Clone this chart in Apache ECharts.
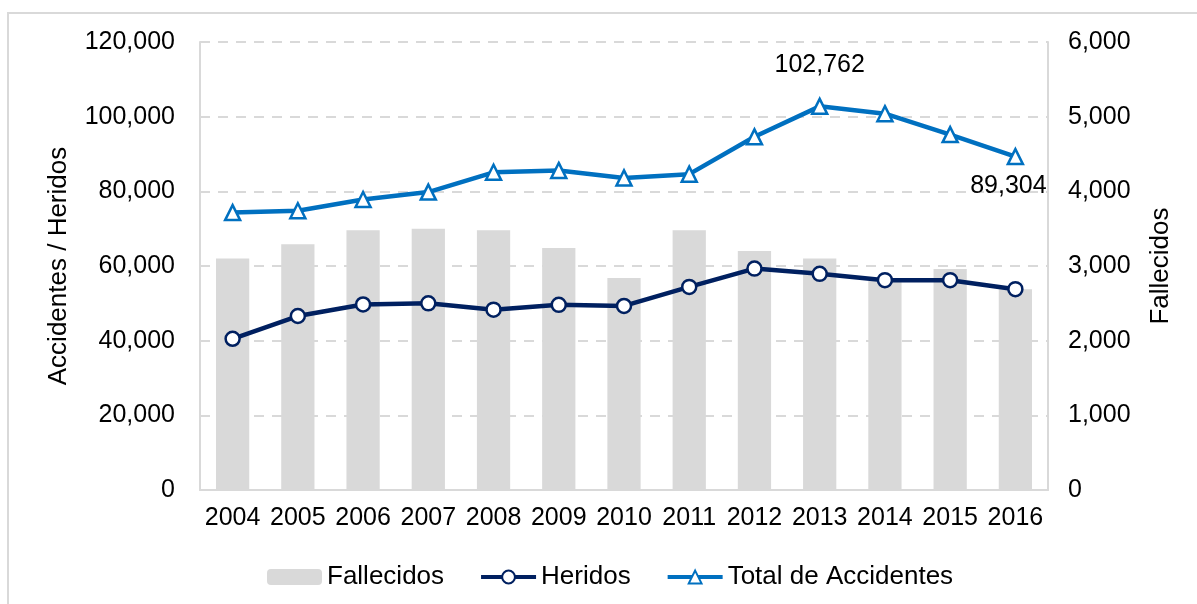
<!DOCTYPE html>
<html>
<head>
<meta charset="utf-8">
<script src="https://cdn.jsdelivr.net/npm/echarts@6/dist/echarts.min.js"></script>
<style>
  html, body { margin: 0; padding: 0; background: #fff; }
  #chart { width: 1197px; height: 604px; }
</style>
</head>
<body>
<div id="chart"></div>
<script>
var years = ['2004','2005','2006','2007','2008','2009','2010','2011','2012','2013','2014','2015','2016'];
var fallecidos = [3100, 3290, 3480, 3500, 3480, 3240, 2840, 3480, 3200, 3100, 2800, 2960, 2690];
var heridos = [40500, 46600, 49700, 50000, 48300, 49600, 49300, 54400, 59300, 57900, 56200, 56200, 53800];
var totalAccidentes = [74300, 74800, 77800, 79800, 85100, 85600, 83600, 84600, 94600, 102762, 100800, 95200, 89304];

var font = 'Liberation Sans, Arial, sans-serif';
var txt = { color: '#000', fontFamily: font, fontSize: 25 };
function fmt(v) { return Number(v).toLocaleString('en-US'); }

var myChart = echarts.init(document.getElementById('chart'));
var option = {
    animation: false,
    backgroundColor: '#fff',
    graphic: [{
        type: 'rect',
        shape: { x: 8, y: 13, width: 1250, height: 700 },
        style: { fill: 'none', stroke: '#d9d9d9', lineWidth: 2 },
        silent: true
    }],
    grid: { left: 200, right: 149, top: 42, bottom: 114 },
    legend: {
        left: 262,
        top: 559,
        itemWidth: 55,
        itemHeight: 16,
        itemGap: 35,
        textStyle: { color: '#000', fontFamily: font, fontSize: 26 },
        lineStyle: { width: 4 },
        data: ['Fallecidos', 'Heridos', 'Total de Accidentes']
    },
    xAxis: {
        type: 'category',
        data: years,
        axisLine: { lineStyle: { color: '#d9d9d9', width: 2 } },
        axisTick: { show: false },
        axisLabel: Object.assign({ margin: 16, interval: 0, hideOverlap: false }, txt)
    },
    yAxis: [
        {
            type: 'value',
            min: 0, max: 120000, interval: 20000,
            name: 'Accidentes / Heridos',
            nameLocation: 'middle',
            nameGap: 128,
            nameTextStyle: { color: '#000', fontFamily: font, fontSize: 26 },
            axisLine: { show: true, lineStyle: { color: '#d9d9d9', width: 2 } },
            axisTick: { show: false },
            axisLabel: Object.assign({ margin: 25, formatter: fmt }, txt),
            splitLine: { lineStyle: { color: '#d9d9d9', width: 2, type: [10, 8] } }
        },
        {
            type: 'value',
            min: 0, max: 6000, interval: 1000,
            name: 'Fallecidos',
            nameLocation: 'middle',
            nameGap: 100,
            nameTextStyle: { color: '#000', fontFamily: font, fontSize: 26 },
            axisLine: { show: true, lineStyle: { color: '#d9d9d9', width: 2 } },
            axisTick: { show: false },
            axisLabel: Object.assign({ margin: 20, formatter: fmt }, txt),
            splitLine: { show: false }
        }
    ],
    series: [
        {
            name: 'Fallecidos',
            type: 'bar',
            yAxisIndex: 1,
            barWidth: '51%',
            itemStyle: { color: '#d9d9d9' },
            data: fallecidos
        },
        {
            name: 'Heridos',
            type: 'line',
            symbol: 'circle',
            symbolSize: 14,
            lineStyle: { color: '#002060', width: 4.5 },
            itemStyle: { color: '#fff', borderColor: '#002060', borderWidth: 2.5 },
            data: heridos
        },
        {
            name: 'Total de Accidentes',
            type: 'line',
            symbol: 'triangle',
            symbolSize: 15,
            lineStyle: { color: '#0070c0', width: 4.5 },
            itemStyle: { color: '#fff', borderColor: '#0070c0', borderWidth: 2.5 },
            data: totalAccidentes.map(function (v, i) {
                var item = { value: v };
                if (i === 9) {
                    item.label = { show: true, position: 'top', distance: 20, formatter: function (p) { return fmt(p.value); } };
                }
                if (i === 12) {
                    item.label = { show: true, position: 'bottom', distance: 8, offset: [-7, 0], formatter: function (p) { return fmt(p.value); } };
                }
                return item;
            }),
            label: txt
        }
    ]
};
myChart.setOption(option);
</script>
</body>
</html>
